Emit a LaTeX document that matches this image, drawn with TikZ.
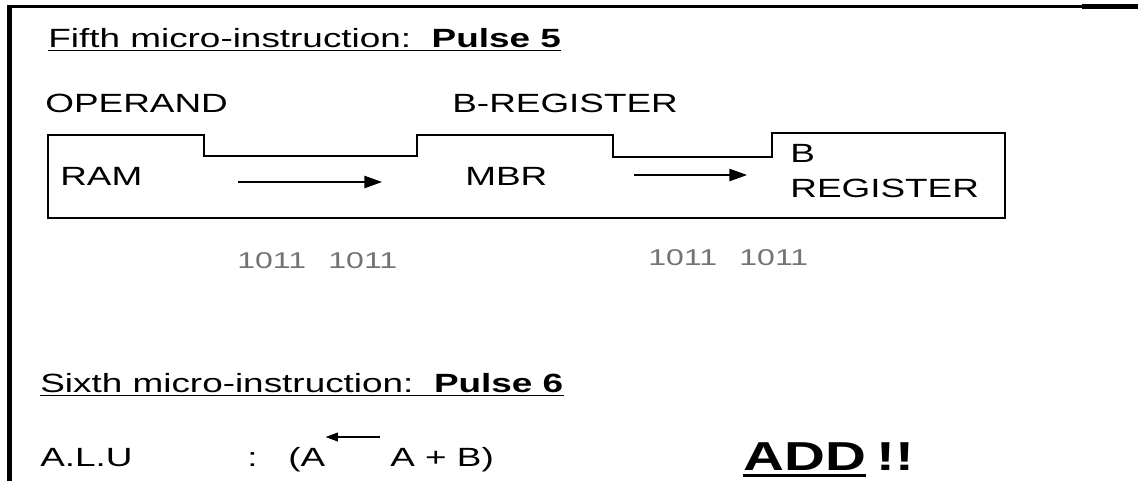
\documentclass[tikz,border=0pt]{standalone}
\usepackage{fontspec}
\setmainfont{Liberation Sans}
\usetikzlibrary{arrows.meta,positioning,calc}
\newcommand{\wide}[1]{\scalebox{1.4}[1]{#1}}

\begin{document}
\begin{tikzpicture}[x=0.02cm, y=-0.02cm,
  txt/.style={inner sep=0pt, anchor=base west, font=\fontsize{15}{19.8}\selectfont},
  hand/.style={inner sep=0pt, anchor=base west, font=\fontsize{13}{15}\selectfont, text=black!55},
  big/.style={inner sep=0pt, anchor=base west, font=\fontsize{23}{27}\selectfont\bfseries},
  wire/.style={line width=1pt},
  uline/.style={line width=1.1pt},
  flow/.style={-{Triangle[length=10pt, width=7pt]}, line width=0.8pt},
  flowsmall/.style={-{Triangle[length=7pt, width=5pt]}, line width=0.8pt}
]
\useasboundingbox (0,0) rectangle (1138,481);

% page frame
\fill (7,5) rectangle (12,481);
\fill (7,5) rectangle (1082,8);
\fill (1082,4) rectangle (1138,9);

% pulse 5
\node[txt] (fifth) at (48,47) {\wide{Fifth micro-instruction:\ \ \textbf{Pulse 5}}};
\draw[uline] ([yshift=-2pt]fifth.base west) -- ([yshift=-2pt]fifth.base east);

\node[txt] (operand) at (45,112) {\wide{OPERAND}};
\node[txt] (bregtop) at (452,112) {\wide{B-REGISTER}};

\draw[wire] (48,135) -- (204,135) -- (204,156) -- (417,156) -- (417,135) -- (613,135)
  -- (613,157) -- (772,157) -- (772,133) -- (1005,133) -- (1005,218) -- (48,218) -- cycle;

\node[txt] (ram) at (60,185) {\wide{RAM}};
\node[txt] (mbr) at (465,185) {\wide{MBR}};
\node[txt, anchor=north west, align=left] (breg) at (790,144) {\wide{B}\\\wide{REGISTER}};

\draw[flow] ($(ram.base east)+(95,-3)$) -- ($(mbr.base west)+(-83,-3)$);
\draw[flow] ($(mbr.base east)+(86,-10)$) -- ($(breg.north west)+(-43,31)$);

\node[hand] (bits1) at (237,268) {\wide{1011\hspace{0.7em}1011}};
\node[hand] (bits2) at (648,265) {\wide{1011\hspace{0.7em}1011}};

% pulse 6
\node[txt] (sixth) at (40,392) {\wide{Sixth micro-instruction:\ \ \textbf{Pulse 6}}};
\draw[uline] ([yshift=-2pt]sixth.base west) -- ([yshift=-2pt]sixth.base east);

\node[txt] (alu) at (40,466) {\wide{A.L.U}};
\node[txt] (colon) at (247,466) {\wide{:}};
\node[txt] (lhs) at (288,466) {\wide{(A}};
\node[txt] (rhs) at (390,466) {\wide{A + B)}};
\draw[flowsmall] ($(rhs.base west)+(-10,-29)$) -- ($(lhs.base east)+(0,-29)$);

\node[big] (add) at (743,470) {\wide{ADD}};
\draw[line width=1.6pt] ([yshift=-3pt]add.base west) -- ([yshift=-3pt]add.base east);
\node[big] (bang) at (876,470) {\wide{!!}};

\end{tikzpicture}
\end{document}
